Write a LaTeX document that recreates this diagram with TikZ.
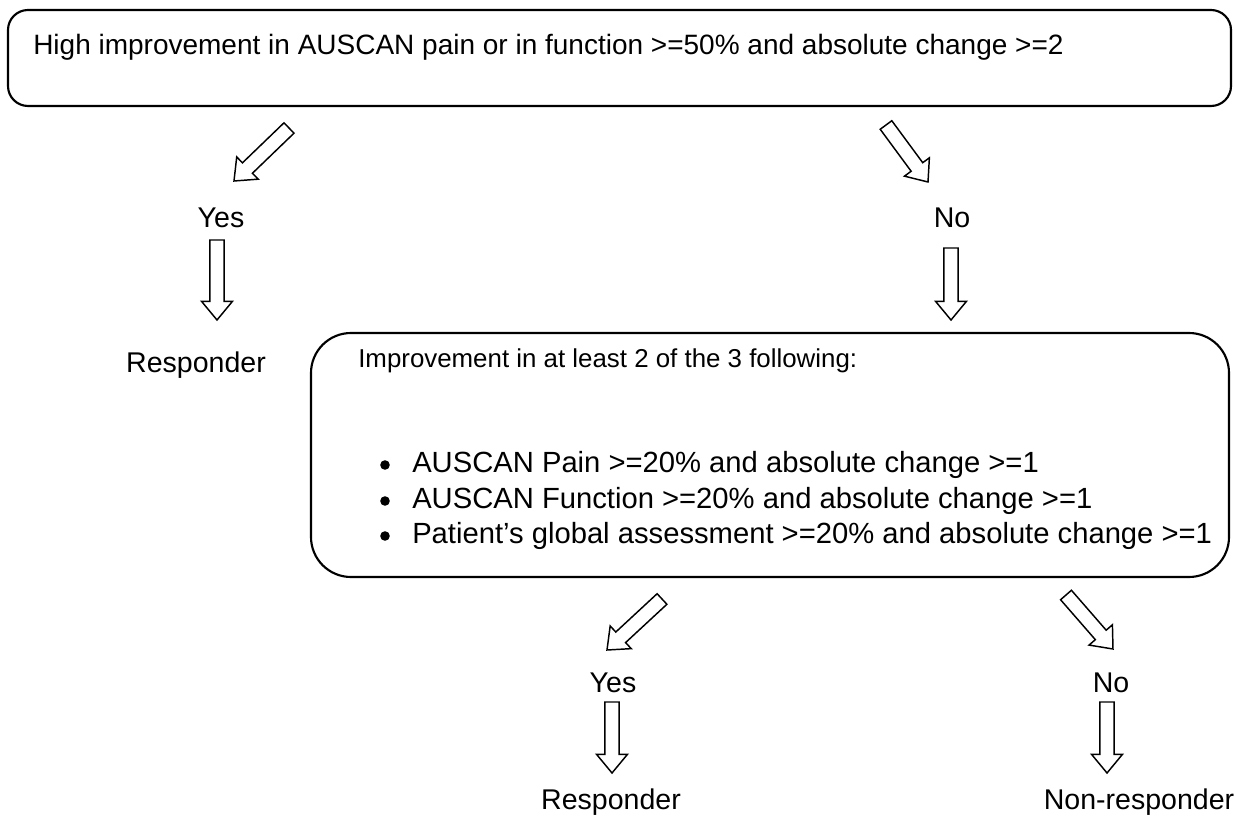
\documentclass[tikz,border=0pt]{standalone}
\usepackage{fontspec}
\setmainfont{Liberation Sans}
\usetikzlibrary{calc}

\tikzset{
  box/.style={draw=black, line width=1.6pt},
  lbl/.style={inner sep=0pt, anchor=base, font=\fontsize{21.4}{25}\selectfont},
  txt/.style={inner sep=0pt, anchor=base west, font=\fontsize{21}{25}\selectfont},
  hollow/.style={draw=black, fill=white, line width=1.1pt, line join=miter},
}

% hollow block arrow from tail coordinate #1 to tip coordinate #2
\newcommand{\hollowarrow}[2]{%
  \draw[hollow] let \p1=(#1), \p2=(#2), \p3=($(\p2)!14pt!(\p1)$) in
    ($(\p1)!5.4pt!90:(\p2)$) -- ($(\p3)!5.4pt!90:(\p2)$) --
    ($(\p3)!11.6pt!90:(\p2)$) -- (\p2) --
    ($(\p3)!11.6pt!-90:(\p2)$) -- ($(\p3)!5.4pt!-90:(\p2)$) --
    ($(\p1)!5.4pt!-90:(\p2)$) -- cycle;}

\begin{document}
\begin{tikzpicture}[x=0.75pt, y=-0.75pt]
  \useasboundingbox (0,0) rectangle (1235,816);

  % first criterion
  \draw[box, rounded corners=15pt] (8,10) rectangle (1231,106);
  \node[txt] (high) at (33,55)
    {High improvement in AUSCAN pain or in function >=50\% and absolute change >=2};

  \coordinate (yesT) at (289,128);  \coordinate (yesH) at (234,181);
  \coordinate (noT)  at (886,125);  \coordinate (noH)  at (928,182);
  \hollowarrow{yesT}{yesH}
  \hollowarrow{noT}{noH}

  \node[lbl] (yes1) at (221,228) {Yes};
  \node[lbl] (no1)  at (952,228) {No};

  \coordinate (d1T) at (217,240); \coordinate (d1H) at (217,320);
  \coordinate (d2T) at (951,248); \coordinate (d2H) at (951,320);
  \hollowarrow{d1T}{d1H}
  \hollowarrow{d2T}{d2H}

  \node[lbl] (resp1) at (196,373) {Responder};

  % second criterion
  \draw[box, rounded corners=30pt] (311,333) rectangle (1229,577);
  \node[txt, font=\fontsize{19.4}{23}\selectfont] (impr) at (358,368)
    {Improvement in at least 2 of the 3 following:};
  \foreach \yy/\tt in {472/{AUSCAN Pain >=20\% and absolute change >=1},
                       508/{AUSCAN Function >=20\% and absolute change >=1},
                       543/{Patient’s global assessment >=20\% and absolute change >=1}}{
    \fill (385,\yy-7) circle (3.6pt);
    \node[txt, font=\fontsize{21.9}{26}\selectfont] at (412,\yy) {\tt};
  }

  \coordinate (yes2T) at (662,599);  \coordinate (yes2H) at (607,650);
  \coordinate (no2T)  at (1066,595); \coordinate (no2H)  at (1113,649);
  \hollowarrow{yes2T}{yes2H}
  \hollowarrow{no2T}{no2H}

  \node[lbl] (yes2) at (613,692) {Yes};
  \node[lbl] (no2)  at (1111,692) {No};

  \coordinate (d3T) at (612,702);  \coordinate (d3H) at (612,773);
  \coordinate (d4T) at (1107,702); \coordinate (d4H) at (1107,773);
  \hollowarrow{d3T}{d3H}
  \hollowarrow{d4T}{d4H}

  \node[lbl] (resp2)   at (611,809)  {Responder};
  \node[lbl] (nonresp) at (1139,809) {Non-responder};
\end{tikzpicture}
\end{document}
